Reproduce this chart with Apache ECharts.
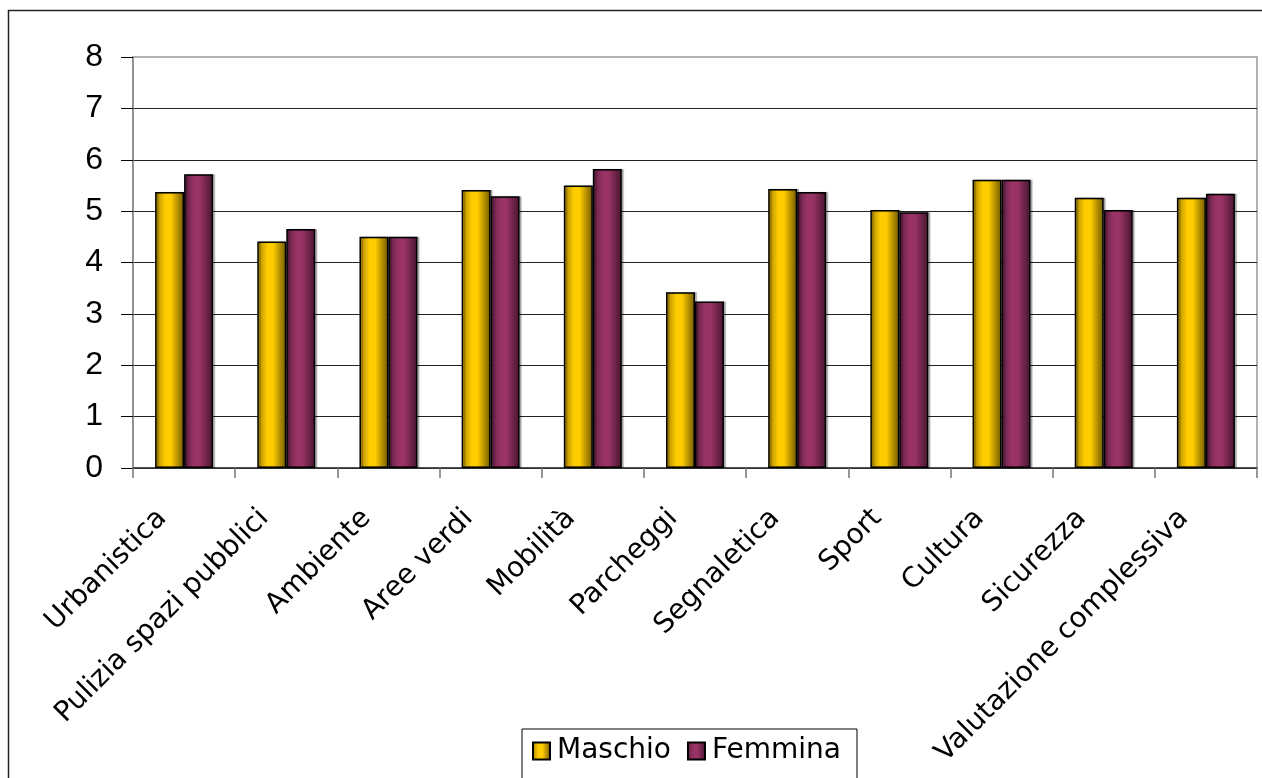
<!DOCTYPE html>
<html>
<head>
<meta charset="utf-8">
<script src="https://cdn.jsdelivr.net/npm/echarts@6/dist/echarts.min.js"></script>
<style>
  html, body { margin: 0; padding: 0; background: #fff; }
  #chart { width: 1262px; height: 778px; }
</style>
</head>
<body>
<div id="chart"></div>
<script>
// Punteggi medi per area, per genere
const categories = [
  'Urbanistica', 'Pulizia spazi pubblici', 'Ambiente', 'Aree verdi', 'Mobilità',
  'Parcheggi', 'Segnaletica', 'Sport', 'Cultura', 'Sicurezza', 'Valutazione complessiva'
];
const maschio = [5.37, 4.41, 4.50, 5.41, 5.50, 3.42, 5.43, 5.02, 5.61, 5.26, 5.26];
const femmina = [5.72, 4.65, 4.50, 5.29, 5.82, 3.24, 5.37, 4.98, 5.61, 5.02, 5.34];
const seriesNames = ['Maschio', 'Femmina'];
const yTicks = { min: 0, max: 8, step: 1 };

// cylinder-like horizontal shading for the bars
function shade(edgeL, mid, edgeR) {
  return {
    type: 'linear', x: 0, y: 0, x2: 1, y2: 0,
    colorStops: [
      { offset: 0, color: edgeL },
      { offset: 0.35, color: mid },
      { offset: 0.55, color: mid },
      { offset: 1, color: edgeR }
    ]
  };
}
const yellow = shade('#a88600', '#ffcc00', '#6e5700');
const plum = shade('#5e1f40', '#993366', '#45152d');

const barStyle = (color) => ({
  color: color,
  borderColor: '#000',
  borderWidth: 1.5,
  shadowColor: 'rgba(0,0,0,0.25)',
  shadowOffsetX: 2,
  shadowOffsetY: 0,
  shadowBlur: 1
});

const chart = echarts.init(document.getElementById('chart'), null, { renderer: 'canvas' });
chart.setOption({
  animation: false,
  backgroundColor: '#fff',
  graphic: [{
    type: 'rect',
    shape: { x: 8.5, y: 10.5, width: 1400, height: 1000 },
    style: { fill: null, stroke: '#222', lineWidth: 1.5 },
    silent: true,
    z: -10
  }],
  grid: {
    left: 133, top: 57, right: 5, bottom: 310,
    show: true, borderColor: '#999', borderWidth: 1.5, backgroundColor: 'transparent'
  },
  legend: {
    data: seriesNames,
    left: 522, top: 729,
    orient: 'horizontal',
    itemWidth: 17, itemHeight: 17, itemGap: 16,
    padding: [8, 16, 14, 10],
    borderColor: '#000', borderWidth: 1,
    backgroundColor: '#fff',
    textStyle: { fontFamily: 'DejaVu Sans', fontSize: 28, color: '#000', padding: [0, 0, 0, 2] },
    icon: 'rect'
  },
  xAxis: {
    type: 'category',
    data: categories,
    boundaryGap: true,
    axisLine: { show: true, lineStyle: { color: '#333', width: 1.5 } },
    axisTick: { show: true, length: 10, lineStyle: { color: '#777', width: 1.5 } },
    axisLabel: {
      interval: 0,
      rotate: 45,
      margin: 24,
      padding: [0, 31, 0, 0],
      fontFamily: 'DejaVu Sans',
      fontSize: 28,
      color: '#000'
    },
    splitLine: { show: false }
  },
  yAxis: {
    type: 'value',
    min: yTicks.min, max: yTicks.max, interval: yTicks.step,
    axisLine: { show: true, lineStyle: { color: '#888', width: 1.5 } },
    axisTick: { show: true, length: 12, lineStyle: { color: '#000', width: 1 } },
    axisLabel: {
      margin: 30,
      fontFamily: 'Liberation Sans',
      fontSize: 32,
      color: '#000'
    },
    splitLine: { show: true, showMaxLine: false, lineStyle: { color: '#222', width: 1.2 } }
  },
  series: [
    {
      name: seriesNames[0], type: 'bar', data: maschio,
      barWidth: 29, barGap: '0%',
      itemStyle: barStyle(yellow)
    },
    {
      name: seriesNames[1], type: 'bar', data: femmina,
      barWidth: 29, barGap: '0%',
      itemStyle: barStyle(plum)
    }
  ]
});
</script>
</body>
</html>
